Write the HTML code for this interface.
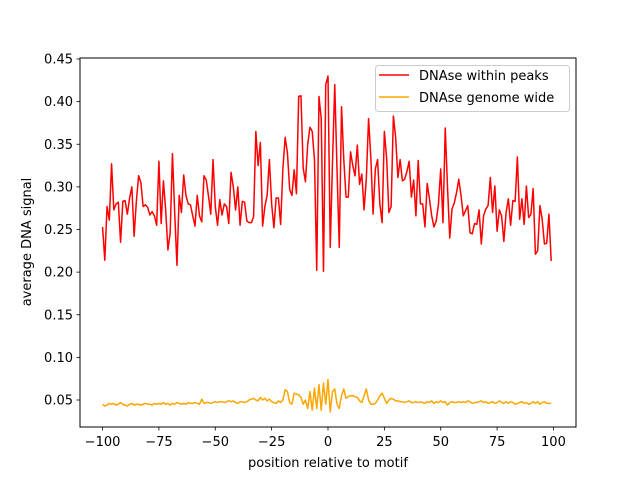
<!DOCTYPE html>
<html><head><meta charset="utf-8"><style>
body{margin:0;background:#fff}
svg{display:block;font-family:"DejaVu Sans","Liberation Sans",sans-serif}
</style></head><body>
<svg id="chart" width="640" height="480" viewBox="0 0 640 480">
<rect x="0" y="0" width="640" height="480" fill="#fff"/>
<g id="plot"></g>
<rect x="80" y="58" width="496" height="369" fill="none" stroke="#000" stroke-width="1"/>
<g id="xticks"></g>
<g id="yticks"></g>
<text x="328" y="467" font-size="13" text-anchor="middle">position relative to motif</text>
<text transform="translate(31,242) rotate(-90)" font-size="13" text-anchor="middle">average DNA signal</text>
<g>
<rect x="375.5" y="65.5" width="194" height="46" rx="3" fill="#fff" fill-opacity="0.8" stroke="#ccc"/>
<line x1="379" y1="75" x2="409" y2="75" stroke="#ff0000" stroke-width="1.5"/>
<text x="419" y="80" font-size="13">DNAse within peaks</text>
<line x1="379" y1="97" x2="409" y2="97" stroke="#ffa500" stroke-width="1.5"/>
<text x="419" y="102" font-size="13">DNAse genome wide</text>
</g>
</svg>
<script>
const positions = Array.from({length:200},(_,i)=>i-100);
const peaksValues = [
0.253,0.214,0.277,0.261,0.327,0.273,0.28,0.282,0.235,0.283,
0.284,0.268,0.287,0.30,0.242,0.283,0.313,0.305,0.277,0.279,
0.276,0.267,0.271,0.266,0.255,0.33,0.257,0.307,0.273,0.226,
0.246,0.339,0.27,0.208,0.29,0.27,0.314,0.29,0.28,0.279,
0.266,0.254,0.29,0.266,0.259,0.313,0.308,0.289,0.268,0.332,
0.277,0.255,0.285,0.267,0.28,0.277,0.257,0.317,0.30,0.273,
0.30,0.255,0.283,0.282,0.26,0.258,0.258,0.265,0.365,0.325,
0.352,0.254,0.277,0.29,0.332,0.28,0.252,0.287,0.287,0.256,
0.322,0.358,0.34,0.297,0.29,0.32,0.292,0.406,0.407,0.322,
0.306,0.35,0.37,0.365,0.332,0.202,0.406,0.38,0.201,0.42,
0.43,0.229,0.33,0.42,0.32,0.229,0.394,0.332,0.288,0.288,
0.341,0.325,0.313,0.349,0.303,0.315,0.273,0.31,0.38,0.334,
0.268,0.321,0.332,0.28,0.258,0.365,0.334,0.27,0.277,0.383,
0.358,0.311,0.332,0.307,0.309,0.318,0.33,0.288,0.308,0.266,
0.331,0.28,0.28,0.253,0.304,0.286,0.266,0.253,0.26,0.28,
0.321,0.258,0.369,0.3,0.24,0.274,0.281,0.293,0.309,0.29,
0.266,0.272,0.278,0.246,0.245,0.257,0.256,0.273,0.233,0.266,
0.274,0.278,0.311,0.27,0.301,0.248,0.273,0.266,0.236,0.27,
0.286,0.255,0.284,0.283,0.335,0.262,0.286,0.256,0.301,0.264,
0.268,0.298,0.221,0.225,0.278,0.262,0.233,0.234,0.268,0.213];
const genomeValues = [
0.045,0.043,0.044,0.046,0.045,0.046,0.044,0.045,0.047,0.045,0.044,0.043,0.045,0.046,0.044,0.045,0.045,0.044,0.045,0.046,
0.045,0.045,0.044,0.046,0.045,0.046,0.045,0.047,0.045,0.046,0.044,0.046,0.045,0.047,0.046,0.045,0.046,0.045,0.047,0.046,
0.046,0.047,0.046,0.045,0.051,0.046,0.047,0.047,0.046,0.047,0.048,0.047,0.048,0.048,0.047,0.048,0.049,0.048,0.049,0.047,
0.046,0.048,0.048,0.047,0.048,0.05,0.051,0.052,0.05,0.049,0.053,0.05,0.052,0.049,0.051,0.048,0.047,0.046,0.049,0.047,
0.05,0.062,0.06,0.047,0.045,0.058,0.057,0.056,0.053,0.045,0.05,0.04,0.06,0.038,0.064,0.04,0.068,0.038,0.07,0.045,
0.074,0.036,0.06,0.063,0.045,0.04,0.055,0.063,0.052,0.054,0.055,0.055,0.054,0.053,0.049,0.047,0.055,0.063,0.05,0.045,
0.045,0.046,0.05,0.055,0.058,0.052,0.046,0.05,0.052,0.051,0.049,0.049,0.048,0.048,0.047,0.048,0.049,0.047,0.047,0.048,
0.047,0.048,0.047,0.046,0.048,0.047,0.049,0.046,0.048,0.047,0.049,0.047,0.048,0.044,0.047,0.048,0.047,0.047,0.048,0.047,
0.048,0.047,0.049,0.048,0.046,0.047,0.047,0.048,0.049,0.047,0.048,0.046,0.047,0.048,0.046,0.047,0.049,0.047,0.046,0.048,
0.046,0.048,0.047,0.045,0.046,0.047,0.048,0.046,0.047,0.045,0.046,0.048,0.046,0.048,0.045,0.047,0.048,0.046,0.046,0.046];
const xTicks = [-100,-75,-50,-25,0,25,50,75,100];
const yTicks = [0.05,0.10,0.15,0.20,0.25,0.30,0.35,0.40,0.45];

const NS='http://www.w3.org/2000/svg';
const xScale = v => 80 + (v + 110) * (496/220);
const yScale = v => 400 - (v - 0.05) * 852.5;

function mk(tag, attrs, parent){const e=document.createElementNS(NS,tag);for(const k in attrs)e.setAttribute(k,attrs[k]);parent.appendChild(e);return e;}

const plot=document.getElementById('plot');
const red=mk('polyline',{points:positions.map((p,i)=>xScale(p).toFixed(2)+','+yScale(peaksValues[i]).toFixed(2)).join(' '),fill:'none',stroke:'#ff0000','stroke-width':1.5,'stroke-linejoin':'round'},plot);


const org=mk('polyline',{points:positions.map((p,i)=>xScale(p).toFixed(2)+','+yScale(genomeValues[i]).toFixed(2)).join(' '),fill:'none',stroke:'#ffa500','stroke-width':1.5,'stroke-linejoin':'round'},plot);



const xg=document.getElementById('xticks');
xTicks.forEach(t=>{const x=xScale(t);
 const l=mk('line',{x1:x,y1:427,x2:x,y2:430.5,stroke:'#000','stroke-width':0.8},xg);
 
 
 const tx=mk('text',{x:x,y:446,'font-size':13,'text-anchor':'middle'},xg);tx.textContent=(t<0?'\u2212'+(-t):t);
 
 
});
const yg=document.getElementById('yticks');
yTicks.forEach(t=>{const y=yScale(t);
 const l=mk('line',{x1:76.5,y1:y,x2:80,y2:y,stroke:'#000','stroke-width':0.8},yg);
 
 
 const tx=mk('text',{x:73,y:y+4.5,'font-size':13,'text-anchor':'end'},yg);tx.textContent=t.toFixed(2);
 
 
});
</script>
</body></html>
